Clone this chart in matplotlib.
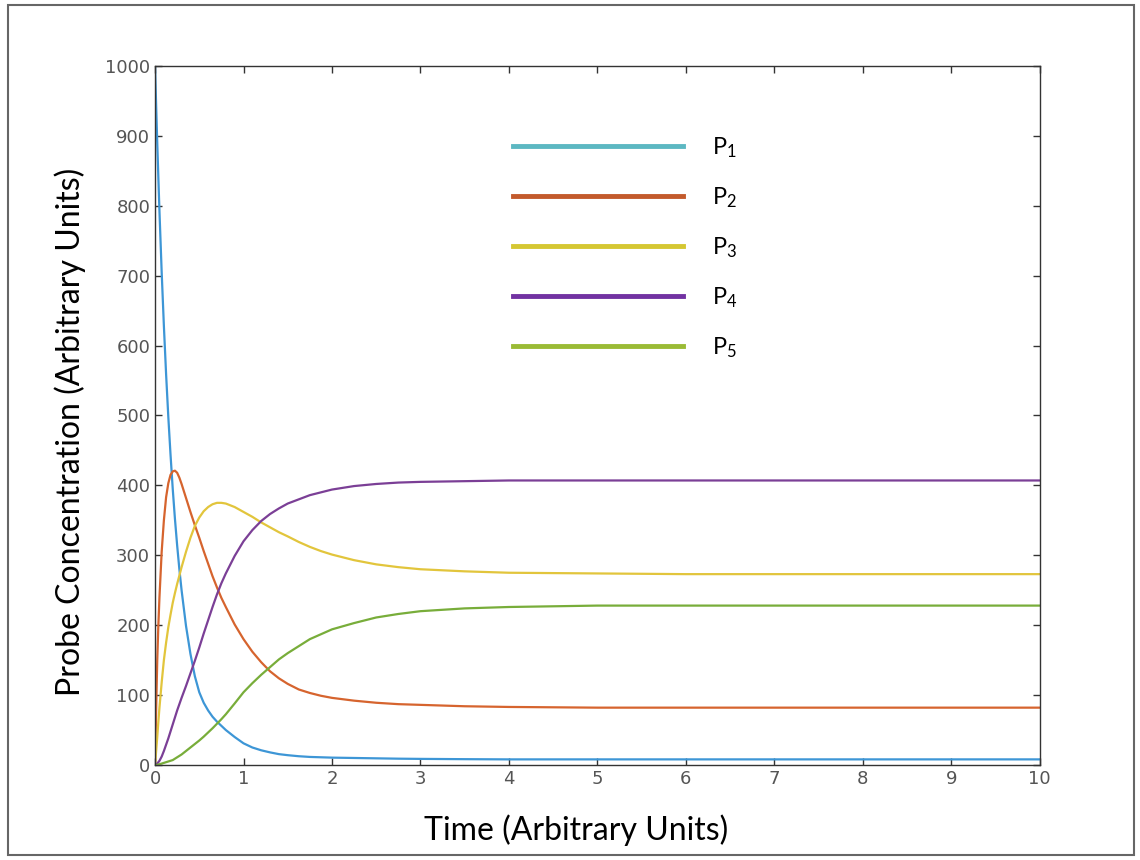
import matplotlib
matplotlib.use('Agg')
import matplotlib.pyplot as plt
from matplotlib.lines import Line2D
from matplotlib.patches import Rectangle

# values
time = [0, 0.0125, 0.025, 0.0375, 0.05, 0.075, 0.1, 0.125,
        0.15, 0.175, 0.2, 0.225, 0.25, 0.275, 0.3, 0.35,
        0.4, 0.45, 0.5, 0.55, 0.6, 0.65, 0.7, 0.75,
        0.8, 0.9, 1.0, 1.1, 1.2, 1.3, 1.4, 1.5,
        1.625, 1.75, 1.875, 2.0, 2.25, 2.5, 2.75, 3.0,
        3.5, 4.0, 5.0, 6.0, 7.0, 8.0, 9.0, 10.0]
p1 = [1000, 943, 890, 840, 792, 705, 628, 559,
      498, 444, 395, 352, 314, 280, 250, 199,
      159, 127, 104, 89, 78, 69, 62, 56,
      50, 40, 31, 25, 21, 18, 15.5, 14,
      12.5, 11.5, 11, 10.5, 10, 9.5, 9, 8.7,
      8.3, 8, 8, 8, 8, 8, 8, 8]
p2 = [0, 80, 150, 200, 240, 305, 350, 383,
      403, 415, 420, 421, 418, 411, 402, 382,
      362, 343, 325, 306, 288, 270, 254, 239,
      226, 201, 180, 162, 147, 134, 124, 116,
      108, 103, 99, 96, 92, 89, 87, 86,
      84, 83, 82, 82, 82, 82, 82, 82]
p3 = [0, 20, 40, 62, 82, 118, 150, 175,
      197, 215, 232, 246, 259, 271, 283, 305,
      325, 342, 354, 363, 369, 373, 375, 375,
      374, 369, 362, 355, 347, 340, 333, 327,
      319, 312, 306, 301, 293, 287, 283, 280,
      277, 275, 274, 273, 273, 273, 273, 273]
p4 = [0, 0.5, 2, 4, 6, 12, 20, 29,
      38, 48, 58, 68, 78, 87, 96, 113,
      131, 149, 168, 188, 207, 226, 244, 260,
      274, 299, 320, 336, 349, 359, 367, 374,
      380, 386, 390, 394, 399, 402, 404, 405,
      406, 407, 407, 407, 407, 407, 407, 407]
p5 = [0, 0, 0.2, 0.5, 1, 2, 3, 4,
      5, 6, 7, 9, 11, 13, 15, 20,
      25, 30, 35, 40.5, 46.5, 52.5, 59, 65.5,
      72.5, 88, 104, 117, 129, 140, 151, 160,
      170, 180, 187, 194, 203, 211, 216, 220,
      224, 226, 228, 228, 228, 228, 228, 228]

labels = ['$\\mathregular{P_1}$', '$\\mathregular{P_2}$', '$\\mathregular{P_3}$',
          '$\\mathregular{P_4}$', '$\\mathregular{P_5}$']
curve_colors = ['#3d96d6', '#d6642e', '#e2c53c', '#7b3f96', '#78ad3a']
legend_colors = ['#5cb8c2', '#c35a2c', '#d5c732', '#7232a2', '#9abb35']

fig = plt.figure(figsize=(11.4, 8.6), dpi=100)
ax = fig.add_axes([0.136, 0.1105, 0.776, 0.8128])

for y, c in zip([p1, p2, p3, p4, p5], curve_colors):
    ax.plot(time, y, color=c, lw=1.6)

ax.set_xlim(0, 10)
ax.set_ylim(0, 1000)
ax.set_xticks(range(0, 11))
ax.set_yticks(range(0, 1001, 100))
ax.tick_params(direction='in', top=True, right=True, length=5, width=1,
               labelsize=13, labelcolor='#555555', color='#333333')
for s in ax.spines.values():
    s.set_color('#333333')
    s.set_linewidth(1)

lab_font = dict(family='Lato', size=23, color='black')
ax.set_xlabel('Time (Arbitrary Units)', labelpad=19, **lab_font)
ax.set_ylabel('Probe Concentration (Arbitrary Units)', labelpad=14, **lab_font)
ax.xaxis.label.set_x(0.476)
ax.yaxis.label.set_y(0.476)

handles = [Line2D([], [], color=c, lw=3.5) for c in legend_colors]
leg = ax.legend(handles, labels, loc='upper left', bbox_to_anchor=(0.405, 0.901),
                frameon=False, handlelength=7.2, handletextpad=1.2, labelspacing=1.08,
                borderpad=0, borderaxespad=0, prop={'family': 'Lato', 'size': 17})

# grey frame round the whole picture
fig.patches.append(Rectangle((0.007, 0.006), 0.988, 0.988, transform=fig.transFigure,
                             fill=False, edgecolor='#666666', lw=1.5))

fig.savefig('out.png', dpi=100)
